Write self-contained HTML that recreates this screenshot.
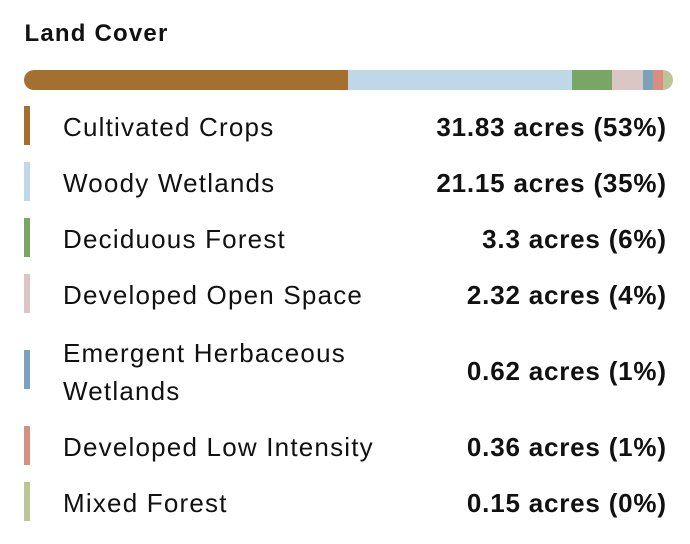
<!DOCTYPE html>
<html><head><meta charset="utf-8"><style>
html,body{margin:0;padding:0;background:#fff;}
body{width:690px;height:544px;position:relative;overflow:hidden;font-family:"Liberation Sans",Arial,sans-serif;color:#111;}
.t{position:absolute;left:24.5px;top:21.5px;font-size:24px;line-height:24px;font-weight:bold;letter-spacing:1.2px;white-space:nowrap;}
.bar{position:absolute;left:24px;top:70px;width:649px;height:20px;border-radius:10px;overflow:hidden;display:flex;}
.bar div{height:100%;flex:none;}
.sw{position:absolute;left:24px;width:6px;height:39px;}
.l{position:absolute;left:63px;font-size:26px;line-height:26px;letter-spacing:1.2px;white-space:nowrap;}
.v{position:absolute;right:23.2px;font-size:26px;line-height:26px;font-weight:bold;letter-spacing:0.8px;white-space:nowrap;text-align:right;}
</style></head><body>
<div class="t">Land Cover</div>
<div class="bar">
<div style="width:324px;background:#a5702f"></div>
<div style="width:224px;background:#bfd8e8"></div>
<div style="width:40px;background:#77a763"></div>
<div style="width:31px;background:#dbc5c5"></div>
<div style="width:10px;background:#7ba1bd"></div>
<div style="width:9.5px;background:#d98f80"></div>
<div style="width:10.5px;background:#bcc595"></div>
</div>

<div class="sw" style="top:106px;background:#a5702f"></div>
<div class="l" style="top:113.5px">Cultivated Crops</div>
<div class="v" style="top:113.5px">31.83 acres (53%)</div>

<div class="sw" style="top:162px;background:#bfd8e8"></div>
<div class="l" style="top:169.5px">Woody Wetlands</div>
<div class="v" style="top:169.5px">21.15 acres (35%)</div>

<div class="sw" style="top:218px;background:#77a763"></div>
<div class="l" style="top:225.5px">Deciduous Forest</div>
<div class="v" style="top:225.5px">3.3 acres (6%)</div>

<div class="sw" style="top:274px;background:#dbc5c5"></div>
<div class="l" style="top:281.5px">Developed Open Space</div>
<div class="v" style="top:281.5px">2.32 acres (4%)</div>

<div class="sw" style="top:350px;background:#7ba1bd"></div>
<div class="l" style="top:339.5px">Emergent Herbaceous</div>
<div class="l" style="top:377.5px">Wetlands</div>
<div class="v" style="top:357.5px">0.62 acres (1%)</div>

<div class="sw" style="top:426px;background:#d59282"></div>
<div class="l" style="top:433.5px">Developed Low Intensity</div>
<div class="v" style="top:433.5px">0.36 acres (1%)</div>

<div class="sw" style="top:482px;background:#bcc595"></div>
<div class="l" style="top:489.5px">Mixed Forest</div>
<div class="v" style="top:489.5px">0.15 acres (0%)</div>
</body></html>
